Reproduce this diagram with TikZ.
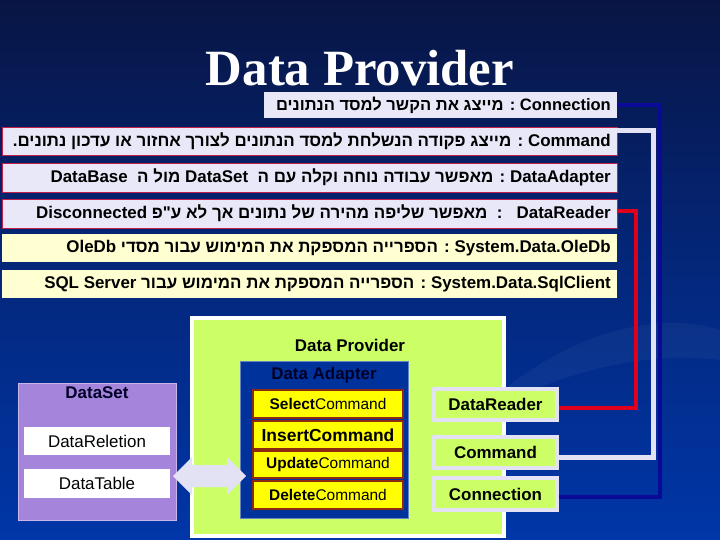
\documentclass[tikz,border=0pt]{standalone}
\usepackage{fontspec}
\setmainfont{Liberation Sans}
\newfontfamily\heb[Script=Hebrew]{Liberation Sans}
\newfontfamily\titlefont{Liberation Serif}
\usetikzlibrary{fit,calc}
\TeXXeTstate=1
\newcommand\ltr[1]{\beginL#1\endL}
\definecolor{bgtop}{HTML}{081544}
\definecolor{bgbot}{HTML}{0036A8}
\definecolor{lav}{HTML}{E8E8F8}
\definecolor{lyel}{HTML}{FFFFD2}
\definecolor{rowred}{HTML}{C0204A}
\definecolor{navyln}{HTML}{0A0A96}
\definecolor{whiteln}{HTML}{E2E2F4}
\definecolor{redln}{HTML}{E0001E}
\definecolor{lgreen}{HTML}{CCFF66}
\definecolor{adapt}{HTML}{00329C}
\definecolor{purp}{HTML}{A585DC}
\definecolor{cmdyel}{HTML}{FFFF00}
\definecolor{cmdbrd}{HTML}{8B2A10}
\tikzset{
  lavrow/.style={fill=lav, draw=rowred, line width=0.8bp, inner sep=0pt},
  lavplain/.style={fill=lav, draw=none, inner sep=0pt},
  yelrow/.style={fill=lyel, draw=none, inner sep=0pt},
  rowtext/.style={anchor=east, inner sep=0pt, font=\heb\bfseries\fontsize{17}{19}\selectfont},
  navyline/.style={draw=navyln, line width=3.5bp},
  whiteline/.style={draw=whiteln, line width=5bp},
  redline/.style={draw=redln, line width=4bp},
  provbox/.style={fill=lgreen, draw=white, line width=4bp, inner sep=0pt},
  adbox/.style={fill=adapt, draw=adapt!60!white, line width=0.8bp, inner sep=0pt},
  cmdbox/.style={fill=cmdyel, draw=cmdbrd, line width=1.5bp, inner sep=0pt},
  sidebox/.style={fill=lgreen, draw=whiteln, line width=4bp, inner sep=0pt},
  setbox/.style={fill=purp, draw=purp!60!white, line width=1bp, inner sep=0pt},
  wbox/.style={fill=white, draw=none, inner sep=0pt},
  lbl/.style={inner sep=0pt, font=\bfseries\fontsize{17}{20}\selectfont},
  reg/.style={inner sep=0pt, font=\fontsize{17}{20}\selectfont},
  cmdtext/.style={inner sep=0pt, font=\fontsize{15.5}{18}\selectfont},
}
\begin{document}
\begin{tikzpicture}[x=1bp,y=-1bp]
\useasboundingbox (0,0) rectangle (720,540);
\shade[top color=bgtop, bottom color=bgbot, middle color=bgtop!45!bgbot] (0,0) rectangle (720,540);
% faint swoosh
\fill[white, opacity=0.04] (470,420) .. controls (560,330) and (660,310) .. (720,330) -- (720,360) .. controls (650,350) and (560,370) .. (470,420) -- cycle;

% title
\node[inner sep=0pt, text=white, font=\titlefont\bfseries\fontsize{51}{56}\selectfont, anchor=base] (title) at (360,86) {Data Provider};

% rows
\node[lavplain, fit={(264,92) (617,118)}] (r1) {};
\node[lavrow, fit={(2,127) (617,155)}] (r2) {};
\node[lavrow, fit={(2,163) (617,192)}] (r3) {};
\node[lavrow, fit={(2,199) (617,228)}] (r4) {};
\node[yelrow, fit={(2,234) (617,262)}] (r5) {};
\node[yelrow, fit={(2,270) (617,298)}] (r6) {};

\node[rowtext, font=\heb\bfseries\fontsize{16.6}{19}\selectfont] (t1) at (611,105) {\beginR\ltr{Connection} : מייצג את הקשר למסד הנתונים\endR};
\node[rowtext] (t2) at (611,141) {\beginR\ltr{Command} : מייצג פקודה הנשלחת למסד הנתונים לצורך אחזור או עדכון נתונים\kern0pt.\endR};
\node[rowtext] (t3) at (611,177.5) {\beginR\ltr{DataAdapter} : מאפשר עבודה נוחה וקלה עם ה\ \ \ltr{DataSet} מול ה\ \ \ltr{DataBase}\endR};
\node[rowtext] (t4) at (611,213.5) {\beginR\ltr{DataReader}\ \ \ :\ \ מאפשר שליפה מהירה של נתונים אך לא ע"פ \ltr{Disconnected}\endR};
\node[rowtext] (t5) at (611,248) {\beginR\ltr{System.Data.OleDb} : הספרייה המספקת את המימוש עבור מסדי \ltr{OleDb}\endR};
\node[rowtext] (t6) at (611,284) {\beginR\ltr{System.Data.SqlClient} : הספרייה המספקת את המימוש עבור \ltr{SQL Server}\endR};

% bottom diagram
\node[provbox, fit={(192,318) (504,536)}] (prov) {};
\node[lbl] (provl) at (350,345) {Data Provider};
\node[adbox, fit={(240,361) (408,518)}] (adap) {};
\node[lbl, text=black!85!blue] (adapl) at (324,375) {Data Adapter};
\node[cmdbox, fit={(253,390) (403,418)}] (sel) {};
\node[cmdbox, fit={(253,421) (403,449)}] (ins) {};
\node[cmdbox, fit={(253,451) (403,478)}] (upd) {};
\node[cmdbox, fit={(253,481) (403,509)}] (del) {};
\node[cmdtext] at (sel) {\textbf{Select}Command};
\node[lbl, font=\bfseries\fontsize{17.5}{20}\selectfont] at (ins) {InsertCommand};
\node[cmdtext] at (upd) {\textbf{Update}Command};
\node[cmdtext] at (del) {\textbf{Delete}Command};

\node[sidebox, fit={(434,389) (557,420)}] (dr) {};
\node[sidebox, fit={(434,437) (557,468)}] (cm) {};
\node[sidebox, fit={(434,478) (557,510)}] (cn) {};
\node[lbl] at (dr) {DataReader};
\node[lbl] at (cm) {Command};
\node[lbl] at (cn) {Connection};

\node[setbox, fit={(18,383) (176,520)}] (ds) {};
\node[lbl, text=black!85!blue] (dsl) at (97,393) {DataSet};
\node[wbox, fit={(24,427) (170,455)}] (rel) {};
\node[wbox, fit={(24,469) (170,498)}] (tab) {};
\node[reg] at (rel) {DataReletion};
\node[reg] at (tab) {DataTable};

% double arrow
\fill[whiteln] (173,476) -- (192,457) -- (192,465) -- (227,465) -- (227,457) -- (246,476) -- (227,495) -- (227,487) -- (192,487) -- (192,495) -- cycle;

% connectors
\coordinate (nv) at (660,0);
\coordinate (wv) at (653,0);
\coordinate (rv) at (636,0);
\coordinate (r2a) at ($(r2.north east)+(0,4)$);
\coordinate (r4a) at ($(r4.east)+(0,-2)$);
\coordinate (cma) at ($(cm.east)+(0,5)$);
\coordinate (dra) at ($(dr.east)+(0,3)$);
\coordinate (cna) at ($(cn.east)+(0,3)$);
\draw[navyline] (r1.east) -- (r1.east -| nv) -- (nv |- cna) -- (cna);
\draw[whiteline] (r2a) -- (r2a -| wv) -- (wv |- cma) -- (cma);
\draw[redline] (r4a) -- (r4a -| rv) -- (rv |- dra) -- (dra);
\end{tikzpicture}
\end{document}
